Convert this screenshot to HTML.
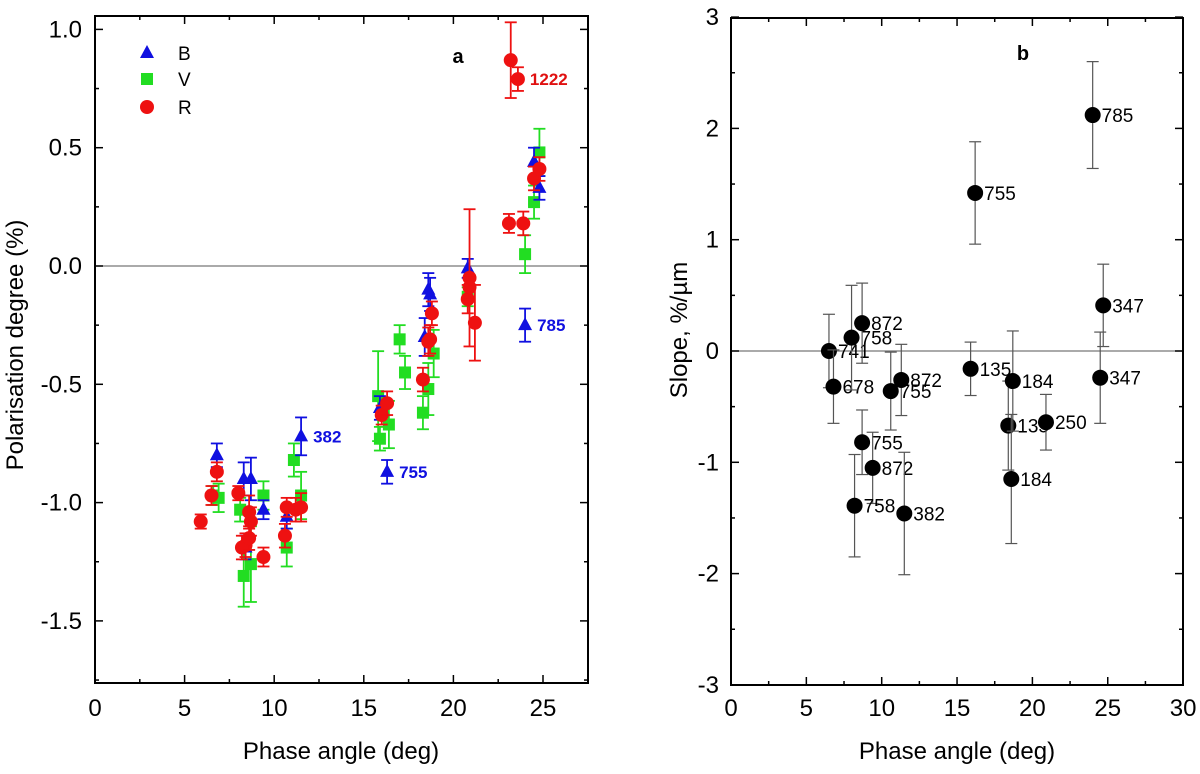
<!DOCTYPE html>
<html><head><meta charset="utf-8"><style>
body{margin:0;background:#fff}
svg{display:block;font-family:"Liberation Sans",Arial,sans-serif}
</style></head><body>
<svg id="c" width="1200" height="774" viewBox="0 0 1200 774"></svg>
<script>
// Panel a data: [phase, pol, err]
const bData=[[6.8,-0.80,0.05],[8.3,-0.90,0.07],[8.7,-0.90,0.09],[8.4,-1.19,0.05],[9.4,-1.03,0.04],[10.7,-1.06,0.05],[11.5,-0.72,0.08],[15.9,-0.60,0.05],[16.3,-0.87,0.05],[18.4,-0.30,0.08],[18.6,-0.10,0.07],[18.7,-0.12,0.07],[20.8,-0.01,0.04],[24.0,-0.25,0.07],[24.5,0.44,0.06],[24.8,0.33,0.05]];
const vData=[[6.6,-0.97,0.04],[6.9,-0.98,0.06],[8.1,-1.03,0.05],[8.3,-1.31,0.13],[8.7,-1.26,0.16],[9.4,-0.97,0.06],[10.7,-1.19,0.08],[11.1,-0.82,0.07],[11.5,-0.97,0.1],[15.8,-0.55,0.19],[15.9,-0.73,0.05],[16.4,-0.67,0.1],[17.0,-0.31,0.06],[17.3,-0.45,0.07],[18.3,-0.62,0.07],[18.6,-0.52,0.11],[18.9,-0.37,0.1],[20.8,-0.13,0.04],[24.0,0.05,0.08],[24.5,0.27,0.07],[24.8,0.48,0.1]];
const rData=[[5.9,-1.08,0.03],[6.5,-0.97,0.04],[6.8,-0.87,0.04],[8.0,-0.96,0.03],[8.2,-1.19,0.05],[8.4,-1.18,0.05],[8.6,-1.15,0.05],[8.7,-1.08,0.06],[8.6,-1.04,0.07],[9.4,-1.23,0.04],[10.6,-1.14,0.05],[10.7,-1.02,0.04],[11.2,-1.03,0.05],[11.5,-1.02,0.06],[16.0,-0.63,0.04],[16.3,-0.58,0.05],[18.3,-0.48,0.05],[18.6,-0.32,0.06],[18.7,-0.31,0.06],[18.8,-0.20,0.05],[20.8,-0.14,0.06],[20.9,-0.05,0.29],[20.9,-0.09,0.05],[21.2,-0.24,0.16],[23.1,0.18,0.04],[23.9,0.18,0.05],[23.2,0.87,0.16],[23.6,0.79,0.05],[24.5,0.37,0.05],[24.8,0.41,0.05]];
const aLabels=[[11.5,-0.72,"382","#1010e0"],[16.3,-0.87,"755","#1010e0"],[24.0,-0.25,"785","#1010e0"],[23.6,0.79,"1222","#e01010"]];
const aXTicks=[0,5,10,15,20,25];
const aYTicks=[1.0,0.5,0.0,-0.5,-1.0,-1.5];
// Panel b data
const slopeX=[6.5,6.8,8.0,8.7,8.7,9.4,8.2,11.5,11.3,10.6,16.2,15.9,18.4,18.7,18.6,20.9,24.0,24.7,24.5];
const slopeY=[0.0,-0.32,0.12,0.25,-0.82,-1.05,-1.39,-1.46,-0.26,-0.36,1.42,-0.16,-0.67,-0.27,-1.15,-0.64,2.12,0.41,-0.24];
const slopeErr=[0.33,0.33,0.47,0.36,0.29,0.32,0.46,0.55,0.32,0.35,0.46,0.24,0.40,0.45,0.58,0.25,0.48,0.37,0.41];
const slopeLbl=["741","678","758","872","755","872","758","382","872","755","755","135","135","184","184","250","785","347","347"];
const bXTicks=[0,5,10,15,20,25,30];
const bYTicks=[3,2,1,0,-1,-2,-3];

const S=document.getElementById('c');const NS='http://www.w3.org/2000/svg';
function mk(t,a,p){const e=document.createElementNS(NS,t);for(const k in a)e.setAttribute(k,a[k]);(p||S).appendChild(e);return e;}
function txt(x,y,s,a,p){const e=mk('text',Object.assign({x:x,y:y},a),p);e.textContent=s;return e;}

const ax=v=>95+v*17.92, ay=v=>266-v*236.6;
const bx=v=>731+v*15.07, by=v=>351-v*111.3;
const A_TOP=16,A_BOT=683,B_TOP=18,B_BOT=685;

function frame(x0,x1,y0,y1,name){
  const f=mk('rect',{x:x0,y:y0,width:x1-x0,height:y1-y0,fill:'none',stroke:'#000','stroke-width':2});
  
  
}
// Panel a
const ga=mk('g',{});


frame(95,588,A_TOP,A_BOT,'panel-a-frame');
mk('line',{x1:95,x2:588,y1:ay(0),y2:ay(0),stroke:'#777','stroke-width':1.2},ga);
for(let v=0;v<=27.5;v+=2.5){const big=v%5===0,x=ax(v),l=big?8:4;
  mk('line',{x1:x,x2:x,y1:A_BOT,y2:A_BOT-l,stroke:'#000','stroke-width':1.5},ga);mk('line',{x1:x,x2:x,y1:A_TOP,y2:A_TOP+l,stroke:'#000','stroke-width':1.5},ga);}
aXTicks.forEach(v=>{const t=txt(ax(v),716,String(v),{'font-size':24,'text-anchor':'middle'},ga);});
for(let v=-1.75;v<=1.01;v+=0.25){const y=ay(v),big=Math.abs(v*2-Math.round(v*2))<1e-6,l=big?8:4;
  mk('line',{x1:95,x2:95+l,y1:y,y2:y,stroke:'#000','stroke-width':1.5},ga);mk('line',{x1:588,x2:588-l,y1:y,y2:y,stroke:'#000','stroke-width':1.5},ga);}
aYTicks.forEach(v=>{const t=txt(82,ay(v)+8,v.toFixed(1),{'font-size':24,'text-anchor':'end'},ga);});
let t=txt(0,0,'Polarisation degree (%)',{'font-size':24,'text-anchor':'middle',transform:'translate(23,345) rotate(-90)'});

t=txt(341,759,'Phase angle (deg)',{'font-size':24,'text-anchor':'middle'});

t=txt(458,63,'a',{'font-size':20,'font-weight':'bold','text-anchor':'middle'});


function ebar(g,x,y1,y2,col,w,sw){mk('line',{x1:x,x2:x,y1:y1,y2:y2,stroke:col,'stroke-width':sw},g);
  mk('line',{x1:x-w,x2:x+w,y1:y1,y2:y1,stroke:col,'stroke-width':sw},g);mk('line',{x1:x-w,x2:x+w,y1:y2,y2:y2,stroke:col,'stroke-width':sw},g);}
function marker(g,type,x,y,col){let m;
  if(type==='tri')m=mk('polygon',{points:`${x},${y-8} ${x-7},${y+5} ${x+7},${y+5}`,fill:col},g);
  else if(type==='sq')m=mk('rect',{x:x-6,y:y-6,width:12,height:12,fill:col},g);
  else m=mk('circle',{cx:x,cy:y,r:7,fill:col},g);
  return m;}
const series=[[vData,'sq','#22dd22','v'],[bData,'tri','#1010e0','b'],[rData,'circ','#ee1111','r']];
series.forEach(([d,type,col,n])=>{
  const g=mk('g',{},ga);
  
  
  d.forEach(p=>{const x=ax(p[0]),y=ay(p[1]);ebar(g,x,ay(p[1]+p[2]),ay(p[1]-p[2]),col,6,1.8);
    const m=marker(g,type,x,y,col);
    
    });
});
aLabels.forEach(l=>{const e=txt(ax(l[0])+12,ay(l[1])+6,l[2],{'font-size':17,'font-weight':'bold',fill:l[3]},ga);
  });
const leg=[['B','tri','#1010e0',53],['V','sq','#22dd22',79],['R','circ','#ee1111',107]];
leg.forEach(l=>{const g=mk('g',{},ga);
  
  
  marker(g,l[1],147,l[3],l[2]);txt(178,l[3]+7,l[0],{'font-size':19},g);});

// Panel b
const gb=mk('g',{});


frame(731,1183,B_TOP,B_BOT,'panel-b-frame');
mk('line',{x1:731,x2:1183,y1:by(0),y2:by(0),stroke:'#777','stroke-width':1.2},gb);
for(let v=0;v<=30;v+=2.5){const big=v%5===0,x=bx(v),l=big?8:4;
  mk('line',{x1:x,x2:x,y1:B_BOT,y2:B_BOT-l,stroke:'#000','stroke-width':1.5},gb);mk('line',{x1:x,x2:x,y1:B_TOP,y2:B_TOP+l,stroke:'#000','stroke-width':1.5},gb);}
bXTicks.forEach(v=>{const t=txt(bx(v),716,String(v),{'font-size':24,'text-anchor':'middle'},gb);});
for(let v=-3;v<=3.01;v+=0.5){const y=by(v),big=Number.isInteger(v),l=big?8:4;
  mk('line',{x1:731,x2:731+l,y1:y,y2:y,stroke:'#000','stroke-width':1.5},gb);mk('line',{x1:1183,x2:1183-l,y1:y,y2:y,stroke:'#000','stroke-width':1.5},gb);}
bYTicks.forEach(v=>{const t=txt(719,by(v)+8,String(v),{'font-size':24,'text-anchor':'end'},gb);});
t=txt(0,0,'Slope,  %/µm',{'font-size':24,'text-anchor':'middle',transform:'translate(687,330) rotate(-90)'});

t=txt(957,759,'Phase angle (deg)',{'font-size':24,'text-anchor':'middle'});

t=txt(1023,60,'b',{'font-size':20,'font-weight':'bold','text-anchor':'middle'});

slopeX.forEach((xv,i)=>{const x=bx(xv),y=by(slopeY[i]);
  ebar(gb,x,by(slopeY[i]+slopeErr[i]),by(slopeY[i]-slopeErr[i]),'#555',6,1.2);
  const c=mk('circle',{cx:x,cy:y,r:8,fill:'#000'},gb);
  
  
  const l=txt(x+9,y+7,slopeLbl[i],{'font-size':19},gb);
  
  
});
</script>
</body></html>
